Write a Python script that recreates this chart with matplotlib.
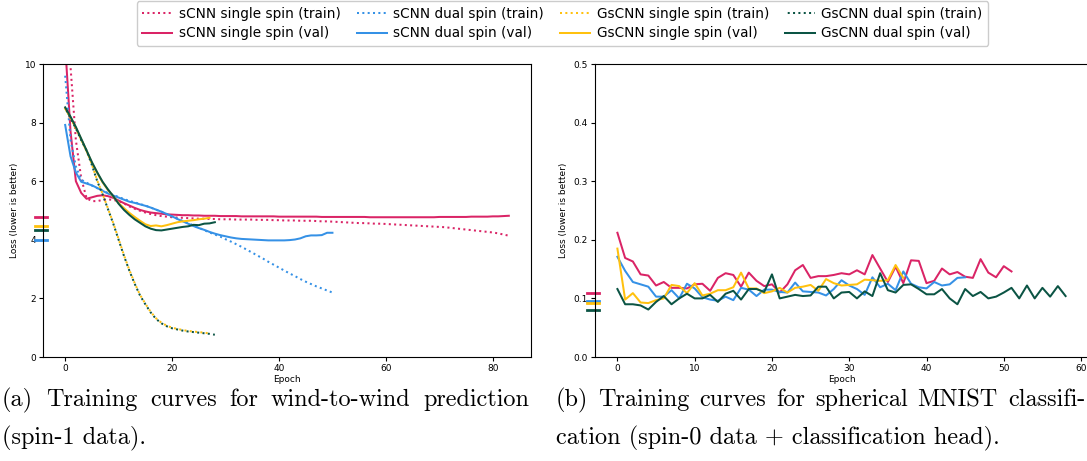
import matplotlib
matplotlib.use("Agg")
import matplotlib.pyplot as plt
import matplotlib.transforms as mtransforms
import numpy as np

# ---------------- data: (a) wind-to-wind prediction ----------------
a_scnn_single_val = [10.65, 7.7, 6.0, 5.6, 5.4, 5.45, 5.5, 5.52, 5.49, 5.43, 5.34, 5.25, 5.17, 5.09, 5.02,
                     4.97, 4.93, 4.91, 4.89, 4.87, 4.86,
                     4.85, 4.84, 4.84, 4.83, 4.83, 4.82, 4.82, 4.82, 4.81, 4.81,
                     4.81, 4.81, 4.80, 4.80, 4.80, 4.80, 4.80, 4.80, 4.80, 4.79,
                     4.79, 4.79, 4.79, 4.79, 4.79, 4.79, 4.79, 4.78, 4.78, 4.78,
                     4.78, 4.78, 4.78, 4.78, 4.78, 4.78, 4.77, 4.77, 4.77, 4.77,
                     4.77, 4.77, 4.77, 4.77, 4.77, 4.77, 4.77, 4.77, 4.77, 4.78,
                     4.78, 4.78, 4.78, 4.78, 4.78, 4.79, 4.79, 4.79, 4.79, 4.80,
                     4.80, 4.81, 4.82]
a_scnn_single_train = [12.5, 9.9, 7.4, 6.1, 5.42, 5.32, 5.32, 5.36, 5.38, 5.36, 5.32, 5.24, 5.14, 5.06, 4.99,
                       4.93, 4.88, 4.84, 4.81, 4.79, 4.77,
                       4.76, 4.75, 4.74, 4.73, 4.72, 4.72, 4.71, 4.71, 4.70, 4.70,
                       4.70, 4.69, 4.69, 4.69, 4.69, 4.68, 4.68, 4.68, 4.67, 4.67,
                       4.66, 4.66, 4.66, 4.65, 4.65, 4.65, 4.64, 4.63, 4.63, 4.62,
                       4.61, 4.60, 4.59, 4.58, 4.57, 4.57, 4.56, 4.55, 4.55, 4.54,
                       4.53, 4.52, 4.51, 4.50, 4.49, 4.48, 4.47, 4.46, 4.45, 4.44,
                       4.43, 4.41, 4.39, 4.37, 4.35, 4.33, 4.31, 4.29, 4.27, 4.25,
                       4.22, 4.18, 4.14]
a_scnn_dual_val = [7.92, 6.85, 6.3, 5.98, 5.92, 5.86, 5.77, 5.67, 5.58, 5.51, 5.44, 5.37, 5.30, 5.26, 5.21,
                   5.16, 5.10, 5.03, 4.96, 4.88, 4.80,
                   4.71, 4.63, 4.55, 4.47, 4.40, 4.34, 4.27, 4.21, 4.16, 4.12,
                   4.08, 4.05, 4.03, 4.02, 4.01, 4.00, 3.99, 3.98, 3.98, 3.98,
                   3.98, 3.99, 4.01, 4.05, 4.12, 4.15, 4.15, 4.16, 4.24, 4.24]
a_scnn_dual_train = [9.6, 7.4, 6.5, 6.05, 5.95, 5.85, 5.76, 5.68, 5.60, 5.53, 5.46, 5.39, 5.33, 5.28, 5.22,
                     5.17, 5.10, 5.03, 4.96, 4.88, 4.80,
                     4.72, 4.64, 4.57, 4.49, 4.41, 4.33, 4.25, 4.18, 4.11, 4.02,
                     3.94, 3.85, 3.76, 3.66, 3.56, 3.46, 3.36, 3.25, 3.15, 3.05,
                     2.95, 2.85, 2.76, 2.66, 2.57, 2.49, 2.41, 2.34, 2.27, 2.20]
a_gscnn_single_val = [8.48, 8.18, 7.83, 7.43, 7.03, 6.63, 6.28, 5.96, 5.70, 5.48, 5.25, 5.08, 4.92, 4.78,
                      4.65, 4.53, 4.47, 4.49, 4.46, 4.50, 4.55, 4.60, 4.63, 4.65, 4.67, 4.70, 4.72, 4.75]
a_gscnn_single_train = [8.5, 8.15, 7.8, 7.42, 7.05, 6.57, 6.02, 5.57, 5.07, 4.57, 4.02, 3.47, 2.97, 2.52,
                        2.12, 1.82, 1.54, 1.32, 1.17, 1.07, 1.00, 0.96, 0.92, 0.89, 0.87, 0.85, 0.83, 0.81]
a_gscnn_dual_val = [8.52, 8.2, 7.85, 7.45, 7.05, 6.65, 6.3, 5.98, 5.72, 5.49, 5.23, 5.02, 4.85, 4.70,
                    4.58, 4.46, 4.38, 4.33, 4.32, 4.35, 4.38, 4.41, 4.44, 4.46, 4.51, 4.50, 4.55, 4.56, 4.60]
a_gscnn_dual_train = [8.5, 8.15, 7.8, 7.4, 7.05, 6.55, 6.0, 5.55, 5.05, 4.55, 4.0, 3.45, 2.95, 2.5,
                      2.1, 1.8, 1.52, 1.3, 1.15, 1.05, 0.98, 0.94, 0.9, 0.87, 0.85, 0.83, 0.81, 0.79, 0.76]

# ---------------- data: (b) spherical MNIST classification ----------------
b_scnn_single_val = [0.212, 0.169, 0.163, 0.141, 0.139, 0.122, 0.128, 0.118, 0.118, 0.117,
                     0.124, 0.125, 0.113, 0.135, 0.143, 0.140, 0.120, 0.144, 0.130, 0.121,
                     0.124, 0.110, 0.124, 0.148, 0.157, 0.135, 0.138, 0.138, 0.140, 0.143,
                     0.141, 0.148, 0.141, 0.174, 0.151, 0.128, 0.154, 0.126, 0.165, 0.164,
                     0.126, 0.130, 0.151, 0.141, 0.145, 0.137, 0.135, 0.167, 0.144, 0.136,
                     0.155, 0.146]
b_scnn_dual_val = [0.171, 0.147, 0.128, 0.124, 0.120, 0.103, 0.103, 0.114, 0.100, 0.125,
                   0.117, 0.102, 0.098, 0.096, 0.103, 0.097, 0.118, 0.115, 0.104, 0.115,
                   0.115, 0.111, 0.110, 0.127, 0.112, 0.111, 0.110, 0.105, 0.116, 0.131,
                   0.122, 0.116, 0.106, 0.136, 0.119, 0.125, 0.114, 0.146, 0.125, 0.119,
                   0.117, 0.128, 0.122, 0.124, 0.135, 0.136]
b_gscnn_single_val = [0.185, 0.098, 0.109, 0.093, 0.092, 0.097, 0.100, 0.123, 0.121, 0.109,
                      0.126, 0.105, 0.108, 0.114, 0.114, 0.119, 0.144, 0.117, 0.117, 0.109,
                      0.112, 0.118, 0.110, 0.118, 0.120, 0.123, 0.113, 0.133, 0.126, 0.122,
                      0.123, 0.124, 0.132, 0.131, 0.130, 0.131, 0.157, 0.135]
b_gscnn_dual_val = [0.116, 0.090, 0.090, 0.088, 0.081, 0.094, 0.104, 0.090, 0.100, 0.108,
                    0.100, 0.100, 0.106, 0.094, 0.108, 0.113, 0.098, 0.116, 0.116, 0.111,
                    0.141, 0.100, 0.103, 0.106, 0.104, 0.105, 0.120, 0.120, 0.100, 0.110,
                    0.111, 0.100, 0.112, 0.104, 0.143, 0.114, 0.110, 0.123, 0.124, 0.116,
                    0.107, 0.107, 0.116, 0.100, 0.090, 0.116, 0.104, 0.111, 0.100, 0.103,
                    0.110, 0.118, 0.100, 0.122, 0.100, 0.118, 0.103, 0.121, 0.104]

labels = ["sCNN single spin (train)", "sCNN single spin (val)",
          "sCNN dual spin (train)", "sCNN dual spin (val)",
          "GsCNN single spin (train)", "GsCNN single spin (val)",
          "GsCNN dual spin (train)", "GsCNN dual spin (val)"]
colors = ["#DA2466", "#3591E6", "#FFC10E", "#0B5444"]
caption_a = ["(a) Training curves for wind-to-wind prediction", "(spin-1 data)."]
caption_b = ["(b) Training curves for spherical MNIST classifi-",
             "cation (spin-0 data + classification head)."]

# ---------------- figure ----------------
W, H = 1087, 461
fig = plt.figure(figsize=(W / 100, H / 100), dpi=100)
axA = fig.add_axes([43 / W, 104 / H, 488 / W, 293 / H])
axB = fig.add_axes([595 / W, 104 / H, 493 / W, 293 / H])

lw = 1.45
a_train = [a_scnn_single_train, a_scnn_dual_train, a_gscnn_single_train, a_gscnn_dual_train]
a_val = [a_scnn_single_val, a_scnn_dual_val, a_gscnn_single_val, a_gscnn_dual_val]
b_val = [b_scnn_single_val, b_scnn_dual_val, b_gscnn_single_val, b_gscnn_dual_val]
dot_styles = [(0, (1, 1.65)), (0, (1, 1.65)), (0, (1, 1.65)), (1.3, (1, 1.65))]

handles = []
for i in range(4):
    tr = a_train[i]
    va = a_val[i]
    h1, = axA.plot(np.arange(len(tr)), tr, linestyle=dot_styles[i], color=colors[i], lw=lw)
    h2, = axA.plot(np.arange(len(va)), va, '-', color=colors[i], lw=lw)
    handles += [h1, h2]
    axB.plot(np.arange(len(b_val[i])), b_val[i], '-', color=colors[i], lw=lw)

# best-value markers at the left of each y axis
for ax, vals in ((axA, a_val), (axB, b_val)):
    trans = mtransforms.blended_transform_factory(ax.transAxes, ax.transData)
    for i in range(4):
        m = min(vals[i])
        ax.plot([-0.016, 0.009], [m, m], color=colors[i], lw=2,
                transform=trans, clip_on=False)

axA.set_ylim(0, 10)
axA.set_yticks([0, 2, 4, 6, 8, 10])
axA.set_xticks([0, 20, 40, 60, 80])
axB.set_ylim(0, 0.5)
axB.set_yticks([0.0, 0.1, 0.2, 0.3, 0.4, 0.5])
axB.set_xticks([0, 10, 20, 30, 40, 50, 60])

for ax in (axA, axB):
    ax.set_xlabel("Epoch", fontsize=6.5, labelpad=1.5)
    ax.set_ylabel("Loss (lower is better)", fontsize=6.5, labelpad=4)
    ax.tick_params(labelsize=6.5, length=3, width=0.8, pad=2)
    for s in ax.spines.values():
        s.set_linewidth(0.8)

fig.legend(handles, labels, ncol=4, loc="upper center",
           bbox_to_anchor=(0.5175, 1.012), fontsize=9.8,
           handlelength=2.2, columnspacing=1.15, handletextpad=0.5,
           labelspacing=0.4, borderpad=0.42, framealpha=1, edgecolor="#cccccc")

# ---------------- captions (first lines justified like LaTeX) ----------------
cap_kw = dict(fontsize=17.5, family="cmr10", va="center", ha="left")
renderer = fig.canvas.get_renderer()


def justified(text, x0, x1, y):
    words = text.split(" ")
    objs = [fig.text(0, 1 - y / H, w, **cap_kw) for w in words]
    widths = [o.get_window_extent(renderer).width for o in objs]
    gap = ((x1 - x0) - sum(widths)) / (len(words) - 1)
    pos = x0
    for o, w in zip(objs, widths):
        o.set_x(pos / W)
        pos += w + gap


justified(caption_a[0], 2, 529, 400)
fig.text(2 / W, 1 - 438 / H, caption_a[1], **cap_kw)
justified(caption_b[0], 556, 1085, 400)
fig.text(556 / W, 1 - 438 / H, caption_b[1], **cap_kw)

fig.savefig("out.png", dpi=100)
